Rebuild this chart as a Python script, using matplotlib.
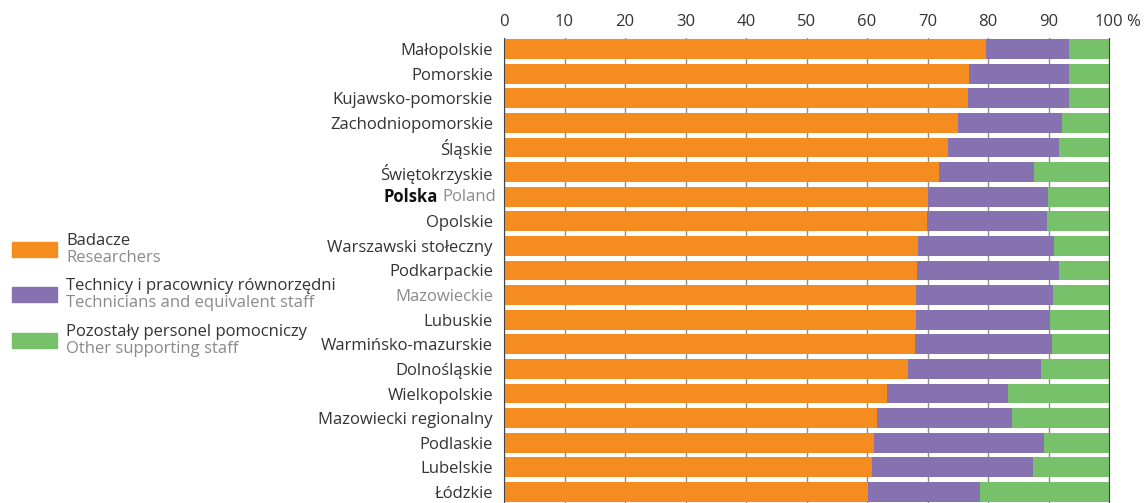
import numpy as np
import matplotlib.pyplot as plt
from matplotlib.patches import Rectangle

regions = ['Małopolskie', 'Pomorskie', 'Kujawsko-pomorskie', 'Zachodniopomorskie',
           'Śląskie', 'Świętokrzyskie', 'Polska', 'Opolskie', 'Warszawski stołeczny',
           'Podkarpackie', 'Mazowieckie', 'Lubuskie', 'Warmińsko-mazurskie',
           'Dolnośląskie', 'Wielkopolskie', 'Mazowiecki regionalny', 'Podlaskie',
           'Lubelskie', 'Łódzkie']
researchers = [79.7, 76.9, 76.7, 75.1, 73.4, 71.9, 70.1, 69.9, 68.5, 68.2,
               68.1, 68.1, 67.9, 66.8, 63.3, 61.6, 61.1, 60.8, 60.2]
technicians = [13.7, 16.5, 16.7, 17.2, 18.4, 15.7, 19.8, 19.9, 22.4, 23.6,
               22.6, 22.2, 22.6, 22.0, 20.0, 22.4, 28.2, 26.7, 18.4]
other_staff = [6.6, 6.6, 6.6, 7.7, 8.2, 12.4, 10.1, 10.2, 9.1, 8.2,
               9.3, 9.7, 9.5, 11.2, 16.7, 16.0, 10.7, 12.5, 21.4]

series_pl = ['Badacze', 'Technicy i pracownicy równorzędni', 'Pozostały personel pomocniczy']
series_en = ['Researchers', 'Technicians and equivalent staff', 'Other supporting staff']
colors = ['#F48C20', '#8672B0', '#76C169']
x_ticks = [0, 10, 20, 30, 40, 50, 60, 70, 80, 90, 100]

plt.rcParams['font.family'] = ['Open Sans', 'DejaVu Sans']
dark = '#333333'
grey = '#8a8a8a'
fs = 12

W, H = 1144, 503
fig = plt.figure(figsize=(W / 100, H / 100), dpi=100)
ax = fig.add_axes([504 / W, 0, (1109 - 504) / W, 1 - 38 / H])

y = np.arange(len(regions))
left = np.zeros(len(regions))
for vals, c in zip([researchers, technicians, other_staff], colors):
    ax.barh(y, vals, left=left, height=0.81, color=c, zorder=2)
    left += np.array(vals)

ax.set_xlim(0, 100)
ax.set_ylim(18.45, -0.45)
ax.set_xticks(x_ticks)
ax.set_xticklabels([str(t) for t in x_ticks])
ax.xaxis.tick_top()
ax.tick_params(axis='x', length=0, pad=6, labelsize=fs, labelcolor=dark)
ax.grid(axis='x', color='#8c8c8c', linewidth=1, zorder=0)

labels = [r if r != 'Polska' else '' for r in regions]
ax.set_yticks(y)
ax.set_yticklabels(labels)
ax.tick_params(axis='y', length=0, pad=8, labelsize=fs, labelcolor=dark)
for lbl in ax.get_yticklabels():
    if lbl.get_text() == 'Mazowieckie':
        lbl.set_color(grey)

for side in ['top', 'bottom']:
    ax.spines[side].set_visible(False)
ax.spines['left'].set_color('#444444')
ax.spines['right'].set_color('#444444')
ax.spines['left'].set_zorder(3)

fig.canvas.draw()

# percent sign after the last tick label
bb100 = ax.get_xticklabels()[-1].get_window_extent()
fig.text((bb100.x1 + 3) / W, (bb100.y0 + bb100.y1) / 2 / H, '%',
         fontsize=fs, color=dark, va='center', ha='left')

# two-part label for the national row
ip = regions.index('Polska')
t_en = ax.annotate('Poland', xy=(0, ip), xycoords=('axes fraction', 'data'),
                   xytext=(-8, 0), textcoords='offset pixels',
                   ha='right', va='center', fontsize=fs, color=grey)
fig.canvas.draw()
bb = t_en.get_window_extent()
ax.annotate('Polska', xy=(0, ip), xycoords=('axes fraction', 'data'),
            xytext=(-8 - bb.width - 4, 0), textcoords='offset pixels',
            ha='right', va='center', fontsize=fs, color='#111111', fontweight='bold')

# legend on the left
centers = [250, 295, 341]
for c, pl, en, cy in zip(colors, series_pl, series_en, centers):
    fig.patches.append(Rectangle((12 / W, 1 - (cy + 7) / H), 45 / W, 15 / H,
                                 color=c, transform=fig.transFigure))
    fig.text(66 / W, 1 - (cy - 9) / H, pl, fontsize=fs, color=dark, va='center')
    fig.text(66 / W, 1 - (cy + 8) / H, en, fontsize=fs, color=grey, va='center')

fig.savefig('out.png', dpi=100)
